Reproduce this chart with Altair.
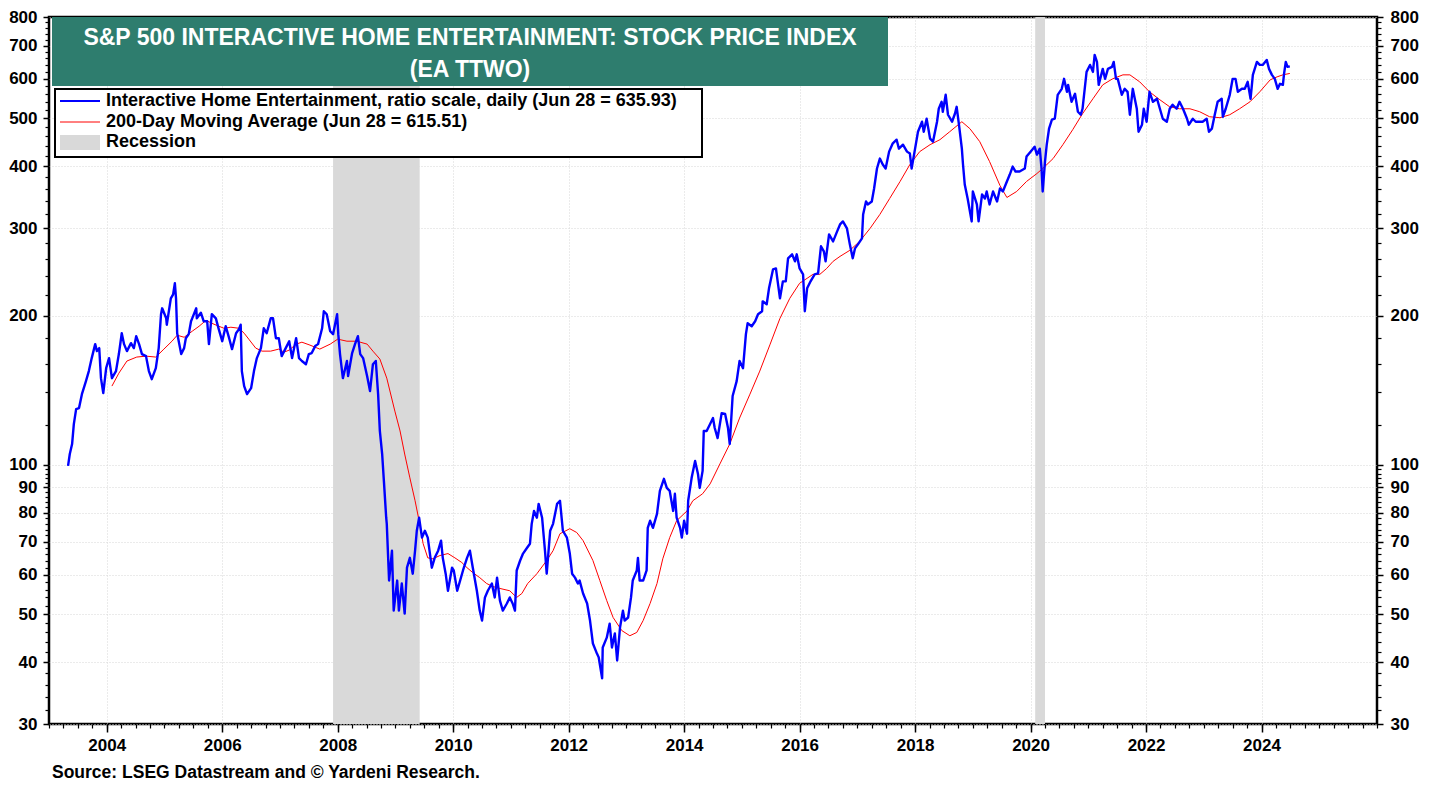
import altair as alt
import pandas as pd

# ---------------- data ----------------
blue_year = [
    2003.33, 2003.36, 2003.40, 2003.43, 2003.47, 2003.52, 2003.57, 2003.64, 2003.69, 2003.74,
    2003.80, 2003.83, 2003.87, 2003.90, 2003.94, 2003.99, 2004.04, 2004.09, 2004.16, 2004.21,
    2004.26, 2004.30, 2004.35, 2004.42, 2004.47, 2004.51, 2004.56, 2004.61, 2004.68, 2004.73,
    2004.78, 2004.85, 2004.90, 2004.94, 2004.96, 2005.03, 2005.04, 2005.11, 2005.15, 2005.18,
    2005.20, 2005.22, 2005.29, 2005.34, 2005.37, 2005.42, 2005.46, 2005.48, 2005.55, 2005.56,
    2005.63, 2005.68, 2005.74, 2005.77, 2005.82, 2005.89, 2005.94, 2006.00, 2006.06, 2006.12,
    2006.17, 2006.24, 2006.29, 2006.32, 2006.34, 2006.38, 2006.43, 2006.50, 2006.55, 2006.60,
    2006.67, 2006.72, 2006.77, 2006.84, 2006.88, 2006.93, 2006.98, 2007.03, 2007.10, 2007.16,
    2007.21, 2007.28, 2007.33, 2007.38, 2007.45, 2007.50, 2007.55, 2007.61, 2007.66, 2007.73,
    2007.76, 2007.81, 2007.87, 2007.92, 2007.99, 2008.01, 2008.04, 2008.09, 2008.16, 2008.18,
    2008.25, 2008.30, 2008.35, 2008.39, 2008.44, 2008.51, 2008.56, 2008.61, 2008.66, 2008.70,
    2008.73, 2008.77, 2008.80, 2008.84, 2008.85, 2008.89, 2008.94, 2008.97, 2009.03, 2009.06,
    2009.11, 2009.16, 2009.20, 2009.25, 2009.30, 2009.34, 2009.37, 2009.41, 2009.46, 2009.51,
    2009.56, 2009.63, 2009.68, 2009.74, 2009.79, 2009.82, 2009.87, 2009.91, 2009.98, 2010.01,
    2010.07, 2010.12, 2010.17, 2010.24, 2010.29, 2010.34, 2010.41, 2010.46, 2010.50, 2010.55,
    2010.60, 2010.67, 2010.72, 2010.76, 2010.81, 2010.86, 2010.93, 2010.98, 2011.03, 2011.07,
    2011.10, 2011.16, 2011.21, 2011.28, 2011.33, 2011.36, 2011.40, 2011.45, 2011.48, 2011.54,
    2011.59, 2011.62, 2011.68, 2011.73, 2011.80, 2011.85, 2011.90, 2011.97, 2012.02, 2012.06,
    2012.11, 2012.16, 2012.19, 2012.25, 2012.32, 2012.37, 2012.42, 2012.49, 2012.52, 2012.58,
    2012.59, 2012.66, 2012.71, 2012.75, 2012.80, 2012.84, 2012.89, 2012.94, 2012.97, 2013.03,
    2013.08, 2013.11, 2013.18, 2013.20, 2013.23, 2013.29, 2013.35, 2013.37, 2013.41, 2013.46,
    2013.53, 2013.58, 2013.65, 2013.70, 2013.75, 2013.81, 2013.84, 2013.87, 2013.93, 2013.96,
    2014.00, 2014.05, 2014.07, 2014.13, 2014.19, 2014.24, 2014.27, 2014.32, 2014.34, 2014.39,
    2014.45, 2014.50, 2014.53, 2014.58, 2014.65, 2014.71, 2014.76, 2014.79, 2014.84, 2014.91,
    2014.96, 2015.02, 2015.07, 2015.10, 2015.17, 2015.23, 2015.28, 2015.35, 2015.36, 2015.43,
    2015.47, 2015.54, 2015.59, 2015.62, 2015.66, 2015.71, 2015.76, 2015.80, 2015.87, 2015.92,
    2015.95, 2016.00, 2016.06, 2016.09, 2016.13, 2016.19, 2016.26, 2016.32, 2016.37, 2016.42,
    2016.45, 2016.51, 2016.58, 2016.65, 2016.70, 2016.75, 2016.82, 2016.87, 2016.92, 2016.96,
    2017.01, 2017.08, 2017.10, 2017.15, 2017.18, 2017.25, 2017.29, 2017.34, 2017.39, 2017.44,
    2017.49, 2017.55, 2017.61, 2017.68, 2017.72, 2017.79, 2017.86, 2017.91, 2017.94, 2018.00,
    2018.05, 2018.12, 2018.15, 2018.20, 2018.26, 2018.31, 2018.38, 2018.41, 2018.46, 2018.48,
    2018.53, 2018.57, 2018.64, 2018.69, 2018.72, 2018.76, 2018.81, 2018.83, 2018.86, 2018.91,
    2018.98, 2019.00, 2019.07, 2019.10, 2019.16, 2019.21, 2019.24, 2019.29, 2019.35, 2019.42,
    2019.47, 2019.52, 2019.59, 2019.64, 2019.69, 2019.74, 2019.81, 2019.90, 2019.93, 2020.00,
    2020.07, 2020.11, 2020.16, 2020.19, 2020.21, 2020.25, 2020.28, 2020.32, 2020.37, 2020.42,
    2020.47, 2020.54, 2020.58, 2020.63, 2020.65, 2020.71, 2020.77, 2020.82, 2020.87, 2020.90,
    2020.97, 2021.03, 2021.08, 2021.11, 2021.15, 2021.18, 2021.25, 2021.29, 2021.34, 2021.41,
    2021.44, 2021.48, 2021.51, 2021.58, 2021.63, 2021.68, 2021.72, 2021.77, 2021.84, 2021.87,
    2021.93, 2021.96, 2022.01, 2022.06, 2022.12, 2022.19, 2022.24, 2022.29, 2022.36, 2022.41,
    2022.46, 2022.53, 2022.58, 2022.64, 2022.71, 2022.74, 2022.81, 2022.86, 2022.91, 2022.98,
    2023.05, 2023.09, 2023.14, 2023.19, 2023.24, 2023.31, 2023.33, 2023.38, 2023.45, 2023.50,
    2023.55, 2023.59, 2023.66, 2023.71, 2023.76, 2023.81, 2023.85, 2023.92, 2023.97, 2024.02,
    2024.09, 2024.13, 2024.18, 2024.23, 2024.28, 2024.32, 2024.37, 2024.39, 2024.42, 2024.45,
    2024.49,
]
blue_value = [
    99.5, 105.1, 110.1, 120.8, 129.5, 130.1, 138.8, 147.5, 154.5, 164.1,
    175.1, 169.5, 171.9, 149.5, 139.5, 156.6, 164.1, 149.5, 154.5, 167.2,
    184.2, 175.1, 169.5, 175.9, 171.9, 181.7, 175.1, 167.2, 165.6, 154.5,
    148.8, 156.6, 171.9, 201.2, 206.8, 197.4, 191.6, 216.6, 220.7, 232.3,
    216.6, 184.2, 167.2, 171.9, 180.0, 183.4, 194.7, 197.4, 206.8, 197.4,
    202.6, 194.7, 194.7, 175.1, 201.2, 197.4, 187.7, 177.5, 190.3, 180.0,
    171.1, 184.2, 187.7, 191.6, 154.5, 144.1, 138.8, 142.7, 154.5, 164.1,
    171.9, 188.5, 184.2, 197.4, 197.4, 180.0, 180.0, 165.6, 171.9, 177.5,
    164.1, 180.0, 164.1, 161.9, 159.5, 167.2, 168.0, 173.5, 175.1, 188.5,
    204.0, 201.2, 185.9, 183.4, 201.2, 183.4, 167.2, 149.5, 161.9, 150.9,
    168.0, 175.1, 181.7, 167.2, 164.1, 150.9, 140.8, 159.5, 161.9, 138.8,
    117.0, 105.1, 92.8, 78.2, 76.0, 58.4, 67.1, 50.8, 58.4, 50.8,
    57.6, 50.1, 62.0, 64.9, 60.3, 67.1, 73.6, 78.2, 71.3, 73.6,
    71.3, 62.0, 64.9, 67.1, 70.3, 64.9, 60.3, 55.7, 62.0, 61.2,
    55.7, 58.4, 61.2, 64.9, 67.1, 62.0, 55.7, 50.8, 48.5, 54.0,
    55.7, 57.6, 54.0, 59.2, 53.2, 50.8, 52.5, 54.0, 52.5, 50.8,
    61.2, 64.1, 66.2, 68.0, 69.3, 76.0, 80.7, 78.2, 83.4, 78.2,
    67.1, 60.3, 73.6, 76.0, 83.4, 84.6, 73.6, 71.3, 66.2, 60.3,
    59.2, 57.6, 58.4, 55.0, 52.5, 48.5, 43.6, 41.6, 40.9, 37.1,
    42.8, 44.8, 47.8, 42.8, 45.7, 40.3, 47.0, 50.8, 48.5, 49.2,
    54.0, 58.4, 61.2, 64.9, 58.4, 58.4, 61.2, 74.6, 77.1, 74.6,
    79.6, 88.6, 93.7, 89.8, 88.6, 80.7, 87.4, 78.2, 74.6, 71.3,
    77.1, 72.6, 84.6, 94.1, 101.8, 95.8, 89.8, 97.2, 117.0, 117.0,
    120.8, 124.2, 118.6, 113.2, 127.1, 126.6, 118.6, 110.1, 137.6, 147.5,
    161.9, 156.6, 183.4, 192.9, 190.3, 194.7, 201.2, 204.0, 213.6, 210.7,
    226.9, 247.8, 248.9, 234.4, 216.6, 234.4, 234.4, 260.8, 265.7, 257.2,
    265.7, 248.9, 242.1, 204.0, 226.9, 234.4, 242.1, 243.3, 275.8, 269.4,
    257.2, 291.5, 282.2, 295.6, 305.3, 309.6, 299.7, 278.3, 260.8, 273.2,
    278.3, 286.2, 319.8, 339.7, 335.0, 339.7, 360.8, 395.8, 414.5, 403.2,
    395.8, 428.1, 444.2, 452.5, 434.1, 442.2, 428.1, 424.2, 395.8, 434.1,
    469.6, 491.9, 469.6, 498.8, 454.6, 448.4, 491.9, 522.4, 539.6, 515.2,
    557.4, 508.1, 491.9, 510.5, 527.2, 485.1, 434.1, 403.2, 367.5, 344.4,
    309.6, 355.8, 335.0, 309.6, 350.9, 344.4, 355.8, 335.0, 355.8, 339.7,
    360.8, 355.8, 372.7, 384.9, 399.4, 390.3, 390.3, 395.8, 418.3, 428.1,
    438.1, 422.2, 434.1, 395.8, 355.8, 408.8, 442.2, 476.2, 496.5, 498.8,
    557.4, 573.1, 600.3, 565.2, 583.8, 539.6, 560.0, 515.2, 508.1, 522.4,
    620.0, 640.4, 620.0, 670.8, 649.4, 583.8, 628.7, 600.3, 628.7, 634.5,
    649.4, 600.3, 600.3, 557.4, 573.1, 565.2, 508.1, 573.1, 522.4, 469.6,
    485.1, 522.4, 491.9, 565.2, 539.6, 547.2, 522.4, 498.8, 491.9, 522.4,
    532.2, 522.4, 539.6, 522.4, 498.8, 485.1, 498.8, 491.9, 491.9, 491.9,
    498.8, 469.6, 476.2, 508.1, 539.6, 547.2, 503.4, 522.4, 557.4, 600.3,
    600.3, 565.2, 573.1, 573.1, 592.0, 547.2, 611.5, 649.4, 640.4, 640.4,
    655.5, 628.7, 611.5, 600.3, 573.1, 586.5, 583.8, 614.3, 649.4, 634.5,
    635.9,
]

red_year = [
    2004.09, 2004.21, 2004.35, 2004.52, 2004.68, 2004.85, 2004.99, 2005.13, 2005.22, 2005.34,
    2005.48, 2005.60, 2005.72, 2005.82, 2005.94, 2006.03, 2006.15, 2006.29, 2006.38, 2006.46,
    2006.58, 2006.69, 2006.84, 2006.98, 2007.07, 2007.16, 2007.28, 2007.38, 2007.52, 2007.69,
    2007.87, 2008.00, 2008.16, 2008.33, 2008.51, 2008.61, 2008.73, 2008.85, 2008.99, 2009.08,
    2009.16, 2009.25, 2009.34, 2009.41, 2009.48, 2009.56, 2009.65, 2009.77, 2009.91, 2010.03,
    2010.15, 2010.24, 2010.34, 2010.46, 2010.58, 2010.69, 2010.81, 2010.98, 2011.10, 2011.19,
    2011.29, 2011.45, 2011.62, 2011.73, 2011.85, 2012.02, 2012.14, 2012.25, 2012.42, 2012.54,
    2012.66, 2012.77, 2012.92, 2013.06, 2013.18, 2013.29, 2013.41, 2013.53, 2013.63, 2013.75,
    2013.87, 2014.05, 2014.15, 2014.32, 2014.45, 2014.62, 2014.79, 2014.96, 2015.14, 2015.31,
    2015.49, 2015.66, 2015.83, 2016.00, 2016.13, 2016.23, 2016.35, 2016.47, 2016.58, 2016.70,
    2016.87, 2017.04, 2017.22, 2017.39, 2017.56, 2017.74, 2017.91, 2018.08, 2018.26, 2018.43,
    2018.60, 2018.81, 2018.95, 2019.12, 2019.29, 2019.47, 2019.59, 2019.76, 2019.93, 2020.11,
    2020.21, 2020.39, 2020.56, 2020.73, 2020.90, 2021.08, 2021.25, 2021.42, 2021.60, 2021.72,
    2021.89, 2022.06, 2022.24, 2022.41, 2022.58, 2022.76, 2022.93, 2023.10, 2023.28, 2023.45,
    2023.62, 2023.80, 2023.97, 2024.15, 2024.27, 2024.37, 2024.49,
]
red_value = [
    144.1, 153.0, 161.9, 164.9, 165.6, 164.9, 171.1, 177.5, 182.5, 180.8,
    185.9, 190.3, 195.6, 192.9, 190.3, 188.5, 189.4, 188.5, 184.2, 179.2,
    171.9, 169.5, 169.5, 171.1, 168.7, 170.3, 175.1, 176.7, 174.3, 171.1,
    175.1, 179.2, 177.5, 177.5, 175.1, 169.5, 163.4, 149.5, 128.3, 117.0,
    105.1, 94.1, 84.6, 77.1, 69.3, 64.9, 64.6, 65.6, 66.2, 64.9,
    63.5, 62.0, 60.6, 59.2, 57.6, 56.8, 56.3, 55.7, 54.0, 55.0,
    57.6, 60.3, 64.1, 67.1, 72.6, 74.3, 73.0, 70.3, 64.1, 58.4,
    53.2, 49.2, 46.3, 45.2, 45.9, 48.5, 52.5, 57.6, 64.6, 71.3,
    77.1, 80.7, 84.6, 87.4, 91.5, 100.4, 110.1, 124.2, 138.8, 154.5,
    175.1, 197.4, 216.6, 232.3, 237.7, 242.1, 242.1, 248.9, 257.2, 263.2,
    270.7, 282.2, 299.7, 319.8, 344.4, 372.7, 403.2, 428.1, 442.2, 452.5,
    469.6, 491.9, 476.2, 448.4, 408.8, 365.8, 346.0, 355.8, 372.7, 386.7,
    395.8, 414.5, 442.2, 474.0, 510.5, 547.2, 583.8, 600.3, 611.5, 611.5,
    592.0, 565.2, 544.6, 527.2, 522.4, 522.4, 515.2, 503.4, 501.1, 508.1,
    522.4, 539.6, 565.2, 597.5, 605.9, 611.5, 615.5,
]

recession_start = [2007.92, 2020.08]
recession_end = [2009.42, 2020.25]

y_labels = [30, 40, 50, 60, 70, 80, 90, 100, 200, 300, 400, 500, 600, 700, 800]
x_labels = list(range(2004, 2026, 2))

title_lines = ["S&P 500 INTERACTIVE HOME ENTERTAINMENT: STOCK PRICE INDEX", "(EA TTWO)"]
legend_texts = [
    "Interactive Home Entertainment, ratio scale, daily (Jun 28 = 635.93)",
    "200-Day Moving Average (Jun 28 = 615.51)",
    "Recession",
]
source_text = "Source: LSEG Datastream and \u00a9 Yardeni Research."

# ---------------- helpers ----------------
y_minor = [v for v in list(range(32, 100, 2)) + list(range(120, 800, 20)) if v not in y_labels]
x_minor = [2003 + q / 4 for q in range(0, 93)]

W, H = 1328, 707
TOP = 9  # plot area starts 2px lower so the top "800" labels are not clipped
FONT = "Liberation Sans"
BLUE = "#0000FF"
RED = "#FF0000"
GREEN = "#2E7D6E"
GREY = "#D9D9D9"
GRID = "#D6D6D6"

xs = alt.Scale(domain=[2003, 2026], nice=False, zero=False)
ys = alt.Scale(type="log", domain=[30, 800], nice=False)

blue_df = pd.DataFrame({"t": blue_year, "v": blue_value})
red_df = pd.DataFrame({"t": red_year, "v": red_value})
rec_df = pd.DataFrame({"s": recession_start, "e": recession_end})
one = pd.DataFrame({"a": [0]})

lab = dict(labelFont=FONT, labelFontSize=17, labelFontWeight="bold", labelColor="black",
           labelOverlap=False, labelFlush=False, labelBound=False, title=None, domain=False,
           tickColor="black")

rec_layer = alt.Chart(rec_df).mark_rect(color=GREY).encode(
    x=alt.X("s:Q", scale=xs, axis=None), x2="e:Q",
    y=alt.value(0), y2=alt.value(H),
)

# major axes (labels + dotted grid)
major_axes = alt.Chart(blue_df).mark_point(opacity=0).encode(
    x=alt.X("t:Q", scale=xs, axis=alt.Axis(
        orient="bottom", values=x_labels, format="d", grid=True, gridColor=GRID,
        gridDash=[1, 2], gridWidth=1, tickSize=8, tickWidth=1.5, labelPadding=5, **lab)),
    y=alt.Y("v:Q", scale=ys, axis=alt.Axis(
        orient="left", values=y_labels, format="d", grid=True, gridColor=GRID,
        gridDash=[1, 2], gridWidth=1, tickSize=6, tickWidth=1.5, labelPadding=6, **lab)),
)
# right axis
right_axis = alt.Chart(blue_df).mark_point(opacity=0).encode(
    x=alt.X("t:Q", scale=xs, axis=None),
    y=alt.Y("v:Q", scale=ys, axis=alt.Axis(
        orient="right", values=y_labels, format="d", grid=False, tickSize=6,
        tickWidth=1.5, labelPadding=7, **lab)),
)
# minor ticks
minor_axes = alt.Chart(blue_df).mark_point(opacity=0).encode(
    x=alt.X("t:Q", scale=xs, axis=alt.Axis(
        orient="bottom", values=x_minor, labels=False, grid=False, tickSize=4,
        tickWidth=1.2, title=None, domain=False, tickColor="black")),
    y=alt.Y("v:Q", scale=ys, axis=alt.Axis(
        orient="left", values=y_minor, labels=False, grid=False, tickSize=4,
        tickWidth=1.2, title=None, domain=False, tickColor="black")),
)
minor_right = alt.Chart(blue_df).mark_point(opacity=0).encode(
    x=alt.X("t:Q", scale=xs, axis=None),
    y=alt.Y("v:Q", scale=ys, axis=alt.Axis(
        orient="right", values=y_minor, labels=False, grid=False, tickSize=4,
        tickWidth=1.2, title=None, domain=False, tickColor="black")),
)

blue_line = alt.Chart(blue_df).mark_line(color=BLUE, strokeWidth=2.4, strokeJoin="round").encode(
    x=alt.X("t:Q", scale=xs, axis=None), y=alt.Y("v:Q", scale=ys, axis=None))
red_line = alt.Chart(red_df).mark_line(color=RED, strokeWidth=1).encode(
    x=alt.X("t:Q", scale=xs, axis=None), y=alt.Y("v:Q", scale=ys, axis=None))

# positions below are page y minus (8 + TOP)
def py(page_y):
    return page_y - 8 - TOP

# title box
title_box = alt.Chart(one).mark_rect(color=GREEN).encode(
    x=alt.value(3), x2=alt.value(839), y=alt.value(py(17)), y2=alt.value(py(86)))
title_1 = alt.Chart(one).mark_text(text=title_lines[0], font=FONT, fontSize=23, fontWeight="bold",
                                   color="white", align="center", baseline="middle").encode(
    x=alt.value(421), y=alt.value(py(38)))
title_2 = alt.Chart(one).mark_text(text=title_lines[1], font=FONT, fontSize=23, fontWeight="bold",
                                   color="white", align="center", baseline="middle").encode(
    x=alt.value(421), y=alt.value(py(70)))

# legend box
legend_box = alt.Chart(one).mark_rect(fill="white", stroke="black", strokeWidth=2).encode(
    x=alt.value(6), x2=alt.value(653), y=alt.value(py(89)), y2=alt.value(py(157)))
leg_blue = alt.Chart(one).mark_rule(color=BLUE, strokeWidth=2).encode(
    x=alt.value(11), x2=alt.value(51), y=alt.value(py(101)))
leg_red = alt.Chart(one).mark_rule(color=RED, strokeWidth=1).encode(
    x=alt.value(11), x2=alt.value(51), y=alt.value(py(122)))
leg_rec = alt.Chart(one).mark_rect(color=GREY).encode(
    x=alt.value(11), x2=alt.value(51), y=alt.value(py(135)), y2=alt.value(py(150)))
leg_txt = [
    alt.Chart(one).mark_text(text=t, font=FONT, fontSize=18, fontWeight="bold", color="black",
                             align="left", baseline="middle").encode(x=alt.value(57), y=alt.value(py(yy)))
    for t, yy in zip(legend_texts, [101, 122, 142])
]

source = alt.Chart(one).mark_text(text=source_text, font=FONT, fontSize=17.5, fontWeight="bold",
                                  color="black", align="left", baseline="middle").encode(
    x=alt.value(3), y=alt.value(py(773)))

chart = alt.layer(
    rec_layer, major_axes, right_axis, minor_axes, minor_right, red_line, blue_line,
    title_box, title_1, title_2, legend_box, leg_blue, leg_red, leg_rec, *leg_txt, source,
).resolve_scale(x="shared", y="shared").resolve_axis(x="independent", y="independent").properties(
    width=W, height=H,
    autosize=alt.AutoSizeParams(type="none"),
    padding={"left": 41, "top": TOP, "right": 50, "bottom": 60},
    background="white",
).configure_view(stroke="black", strokeWidth=2.5)

chart.save("out.html", embed_options={"renderer": "svg", "actions": False})
